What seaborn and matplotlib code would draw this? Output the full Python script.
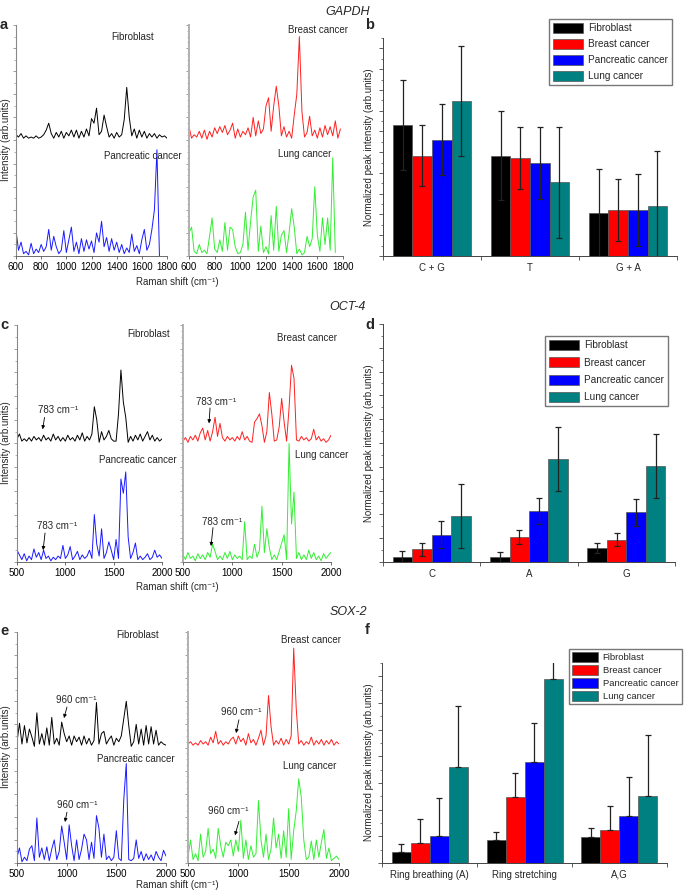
import numpy as np
import pandas as pd
import matplotlib
matplotlib.use("Agg")
import matplotlib.pyplot as plt
from matplotlib.patches import Patch
from matplotlib.ticker import MultipleLocator
import seaborn as sns

sns.set_style("ticks")
plt.rcParams['font.family'] = ['Liberation Sans', 'DejaVu Sans']

cells = ["Fibroblast", "Breast cancer", "Pancreatic cancer", "Lung cancer"]
bar_colors = ["#000000", "#ff0000", "#0000ff", "#008080"]
line_colors = ["#000000", "#ff2020", "#1a1aff", "#33ee33"]

# ---- GAPDH spectra (600-1800 cm-1, every 20 cm-1) ----
gapdh_fib = [0.05, 0.03, 0.06, 0.02, 0.04, 0.02, 0.03, 0.02, 0.04, 0.02,
             0.03, 0.05, 0.09, 0.15, 0.06, 0.02, 0.07, 0.03, 0.08, 0.02,
             0.07, 0.04, 0.09, 0.03, 0.09, 0.02, 0.08, 0.03, 0.10, 0.04,
             0.19, 0.15, 0.28, 0.05, 0.08, 0.22, 0.12, 0.03, 0.06, 0.02,
             0.07, 0.03, 0.05, 0.18, 0.46, 0.20, 0.04, 0.10, 0.02, 0.09,
             0.03, 0.08, 0.02, 0.06, 0.03, 0.06, 0.02, 0.05, 0.03, 0.04,
             0.02]
gapdh_breast = [0.12, 0.02, 0.05, 0.03, 0.08, 0.02, 0.09, 0.01, 0.08, 0.03,
                0.11, 0.06, 0.12, 0.07, 0.13, 0.05, 0.09, 0.15, 0.02, 0.10,
                0.03, 0.08, 0.05, 0.11, 0.03, 0.20, 0.04, 0.17, 0.06, 0.10,
                0.30, 0.37, 0.08, 0.30, 0.47, 0.30, 0.04, 0.12, 0.03, 0.08,
                0.02, 0.22, 0.40, 0.90, 0.25, 0.03, 0.07, 0.21, 0.04, 0.09,
                0.02, 0.11, 0.03, 0.13, 0.05, 0.12, 0.04, 0.17, 0.02, 0.10]
gapdh_panc = [0.22, 0.05, 0.12, 0.02, 0.04, 0.01, 0.11, 0.02, 0.06, 0.03,
              0.10, 0.04, 0.08, 0.23, 0.05, 0.17, 0.08, 0.02, 0.05, 0.22,
              0.03, 0.14, 0.25, 0.04, 0.12, 0.02, 0.15, 0.04, 0.14, 0.06,
              0.13, 0.03, 0.20, 0.12, 0.30, 0.08, 0.16, 0.04, 0.15, 0.05,
              0.12, 0.03, 0.10, 0.02, 0.07, 0.03, 0.19, 0.04, 0.09, 0.02,
              0.14, 0.23, 0.05, 0.10, 0.23, 0.40, 0.92, 0.00]
gapdh_lung = [0.20, 0.25, 0.04, 0.02, 0.10, 0.03, 0.05, 0.02, 0.17, 0.33,
              0.06, 0.03, 0.14, 0.04, 0.29, 0.05, 0.25, 0.23, 0.08, 0.02,
              0.03, 0.10, 0.38, 0.05, 0.30, 0.51, 0.57, 0.04, 0.26, 0.03,
              0.08, 0.02, 0.35, 0.05, 0.43, 0.04, 0.18, 0.22, 0.03, 0.20,
              0.41, 0.25, 0.02, 0.06, 0.01, 0.03, 0.17, 0.08, 0.15, 0.60,
              0.18, 0.04, 0.33, 0.10, 0.33, 0.05, 0.85, 0.03]

# ---- OCT-4 spectra (500-2000 cm-1, every 25 cm-1) ----
oct4_fib = [0.04, 0.08, 0.02, 0.04, 0.02, 0.05, 0.02, 0.06, 0.03, 0.05,
            0.02, 0.07, 0.03, 0.05, 0.02, 0.08, 0.03, 0.06, 0.02, 0.05,
            0.02, 0.07, 0.03, 0.05, 0.02, 0.07, 0.03, 0.09, 0.02, 0.06,
            0.03, 0.08, 0.31, 0.20, 0.01, 0.10, 0.03, 0.06, 0.11, 0.04,
            0.02, 0.02, 0.25, 0.62, 0.35, 0.22, 0.01, 0.06, 0.02, 0.07,
            0.03, 0.08, 0.02, 0.06, 0.10, 0.03, 0.07, 0.02, 0.05, 0.02,
            0.04]
oct4_breast = [0.02, 0.05, 0.01, 0.06, 0.03, 0.07, 0.02, 0.09, 0.13, 0.03,
               0.11, 0.02, 0.10, 0.22, 0.06, 0.17, 0.05, 0.02, 0.06, 0.03,
               0.05, 0.02, 0.06, 0.03, 0.10, 0.03, 0.06, 0.02, 0.01, 0.18,
               0.21, 0.25, 0.15, 0.01, 0.10, 0.43, 0.25, 0.02, 0.03, 0.14,
               0.38, 0.18, 0.02, 0.30, 0.66, 0.55, 0.03, 0.02, 0.06, 0.03,
               0.05, 0.02, 0.04, 0.12, 0.03, 0.06, 0.02, 0.04, 0.01, 0.03,
               0.07]
oct4_panc = [0.10, 0.06, 0.02, 0.07, 0.01, 0.05, 0.02, 0.11, 0.04, 0.08,
             0.02, 0.10, 0.03, 0.05, 0.01, 0.04, 0.02, 0.05, 0.03, 0.14,
             0.03, 0.06, 0.13, 0.02, 0.05, 0.09, 0.02, 0.06, 0.03, 0.05,
             0.10, 0.03, 0.40, 0.15, 0.05, 0.28, 0.03, 0.08, 0.17, 0.10,
             0.02, 0.19, 0.03, 0.70, 0.58, 0.76, 0.21, 0.03, 0.08, 0.16,
             0.02, 0.05, 0.02, 0.04, 0.07, 0.02, 0.04, 0.10, 0.04, 0.06,
             0.03]
oct4_lung = [0.06, 0.02, 0.08, 0.03, 0.05, 0.01, 0.07, 0.03, 0.06, 0.02,
             0.08, 0.04, 0.15, 0.09, 0.02, 0.05, 0.02, 0.08, 0.03, 0.09,
             0.02, 0.06, 0.03, 0.05, 0.02, 0.34, 0.02, 0.05, 0.03, 0.15,
             0.04, 0.10, 0.47, 0.08, 0.28, 0.12, 0.02, 0.06, 0.02, 0.09,
             0.16, 0.23, 0.02, 1.00, 0.32, 0.59, 0.03, 0.08, 0.02, 0.06,
             0.02, 0.10, 0.03, 0.08, 0.02, 0.05, 0.01, 0.07, 0.03, 0.06,
             0.08]

# ---- SOX-2 spectra (500-2000 cm-1, every 25 cm-1) ----
sox2_fib = [0.05, 0.21, 0.03, 0.19, 0.04, 0.16, 0.09, 0.01, 0.30, 0.03,
            0.12, 0.02, 0.17, 0.02, 0.26, 0.03, 0.08, 0.02, 0.22, 0.12,
            0.05, 0.10, 0.02, 0.10, 0.05, 0.09, 0.02, 0.10, 0.03, 0.08,
            0.02, 0.06, 0.39, 0.03, 0.12, 0.14, 0.03, 0.07, 0.10, 0.02,
            0.08, 0.05, 0.10, 0.25, 0.40, 0.19, 0.01, 0.05, 0.20, 0.03,
            0.16, 0.02, 0.19, 0.03, 0.18, 0.03, 0.15, 0.02, 0.05, 0.03,
            0.02]
sox2_breast = [0.03, 0.05, 0.02, 0.04, 0.02, 0.06, 0.03, 0.05, 0.02, 0.09,
               0.04, 0.14, 0.03, 0.06, 0.02, 0.05, 0.03, 0.07, 0.09, 0.03,
               0.10, 0.05, 0.08, 0.02, 0.12, 0.04, 0.07, 0.02, 0.08, 0.15,
               0.02, 0.10, 0.45, 0.18, 0.02, 0.06, 0.03, 0.08, 0.02, 0.07,
               0.03, 0.10, 0.86, 0.34, 0.03, 0.06, 0.02, 0.05, 0.03, 0.09,
               0.02, 0.06, 0.03, 0.07, 0.02, 0.06, 0.03, 0.07, 0.02, 0.05,
               0.03]
sox2_panc = [0.05, 0.13, 0.01, 0.05, 0.02, 0.12, 0.15, 0.02, 0.39, 0.05,
             0.13, 0.03, 0.14, 0.02, 0.12, 0.20, 0.03, 0.10, 0.32, 0.18,
             0.03, 0.33, 0.15, 0.02, 0.20, 0.03, 0.12, 0.25, 0.20, 0.03,
             0.18, 0.04, 0.41, 0.30, 0.05, 0.25, 0.03, 0.06, 0.02, 0.05,
             0.28, 0.04, 0.02, 0.55, 0.86, 0.03, 0.02, 0.04, 0.20, 0.04,
             0.10, 0.02, 0.08, 0.03, 0.07, 0.02, 0.10, 0.05, 0.02, 0.11,
             0.06]
sox2_lung = [0.05, 0.20, 0.03, 0.08, 0.02, 0.25, 0.05, 0.10, 0.30, 0.08,
             0.12, 0.04, 0.30, 0.15, 0.05, 0.18, 0.15, 0.20, 0.06, 0.20,
             0.10, 0.37, 0.04, 0.20, 0.03, 0.15, 0.05, 0.08, 0.54, 0.20,
             0.05, 0.25, 0.03, 0.12, 0.39, 0.13, 0.25, 0.04, 0.28, 0.05,
             0.47, 0.03, 0.28, 0.45, 0.73, 0.57, 0.20, 0.03, 0.05, 0.19,
             0.03, 0.20, 0.05, 0.18, 0.29, 0.04, 0.13, 0.02, 0.04, 0.06,
             0.03]

# ---- normalized peak intensities (rows = cells, cols = groups) ----
gapdh_groups = ["C + G", "T", "G + A"]
gapdh_mean = [[0.630, 0.484, 0.209], [0.484, 0.473, 0.220],
              [0.561, 0.449, 0.222], [0.746, 0.355, 0.241]]
gapdh_err = [[0.217, 0.215, 0.212], [0.148, 0.149, 0.150],
             [0.172, 0.173, 0.173], [0.264, 0.266, 0.265]]

oct4_groups = ["C", "A", "G"]
oct4_mean = [[0.022, 0.021, 0.060], [0.053, 0.105, 0.094],
             [0.114, 0.213, 0.209], [0.192, 0.433, 0.404]]
oct4_err = [[0.024, 0.023, 0.021], [0.028, 0.028, 0.028],
            [0.057, 0.055, 0.056], [0.134, 0.133, 0.133]]

sox2_groups = ["Ring breathing (A)", "Ring stretching", "A,G"]
sox2_mean = [[0.041, 0.086, 0.099], [0.076, 0.248, 0.125],
             [0.100, 0.380, 0.178], [0.361, 0.690, 0.251]]
sox2_err = [[0.030, 0.031, 0.031], [0.089, 0.089, 0.089],
            [0.145, 0.145, 0.145], [0.229, 0.229, 0.229]]

FS = 7
W, H = 685, 894
fig = plt.figure(figsize=(W / 100, H / 100), dpi=100)


def axes_px(x0, x1, y0, y1):
    return fig.add_axes([x0 / W, 1 - y1 / H, (x1 - x0) / W, (y1 - y0) / H])


def spectra(ax, start, step, top, bottom, top_color, bottom_color, xlim, xticks, left_col):
    xt = start + step * np.arange(len(top))
    xb = start + step * np.arange(len(bottom))
    sns.lineplot(x=xb, y=np.array(bottom), ax=ax, color=bottom_color, lw=0.7)
    sns.lineplot(x=xt, y=np.array(top) + 1.0, ax=ax, color=top_color, lw=0.7)
    ax.set_xlim(*xlim)
    ax.set_ylim(0, 2)
    ax.set_xticks(xticks)
    ax.set_xticklabels([str(t) for t in xticks], fontsize=FS)
    ax.yaxis.set_major_locator(MultipleLocator(0.2))
    ax.yaxis.set_minor_locator(MultipleLocator(0.05) if not left_col else MultipleLocator(0.1))
    ax.set_yticklabels([])
    ax.tick_params(axis='x', length=2, width=0.5, pad=2, colors="#333333")
    ax.tick_params(axis='y', which='major', length=2.5, width=0.5, colors="#777777")
    ax.tick_params(axis='y', which='minor', length=1.2, width=0.4, colors="#777777")
    for t in ax.get_xticklabels():
        t.set_color("black")
    sns.despine(ax=ax)
    ax.spines['left'].set_color("#888888" if left_col else "#b0b0b0")
    ax.spines['left'].set_linewidth(0.8 if left_col else 1.4)
    ax.spines['bottom'].set_color("#555555")
    ax.spines['bottom'].set_linewidth(0.6)
    ax.set_xlabel("")
    ax.set_ylabel("")


def labels(ax, items):
    for txt, x, y in items:
        ax.text(x, y, txt, fontsize=FS, ha='center', va='center', clip_on=False)


def arrows(ax, items):
    for tx, ty, x0, y0, x1, y1, txt in items:
        ax.text(tx, ty, txt, fontsize=FS, ha='center', va='center')
        ax.annotate('', xy=(x1, y1), xytext=(x0, y0),
                    arrowprops=dict(arrowstyle='-|>', color='black', lw=0.6,
                                    mutation_scale=5, shrinkA=0, shrinkB=0))


def bars(ax, groups, means, errs, ymax, one_sided=False):
    rows = []
    for cell, m in zip(cells, means):
        for g, v in zip(groups, m):
            rows.append((g, cell, v))
    df = pd.DataFrame(rows, columns=["group", "cell", "value"])
    sns.barplot(data=df, x="group", y="value", hue="cell", order=groups, hue_order=cells,
                palette=bar_colors, saturation=1, errorbar=None, width=0.8,
                edgecolor="#555555", linewidth=0.5, legend=False, ax=ax)
    for cont, e in zip(ax.containers, errs):
        xs = [b.get_x() + b.get_width() / 2 for b in cont]
        ys = [b.get_height() for b in cont]
        yerr = [np.zeros(len(e)), e] if one_sided else e
        ax.errorbar(xs, ys, yerr=yerr, fmt='none', ecolor="#222222",
                    elinewidth=0.9, capsize=2, capthick=0.9)
    ax.set_xlim(-0.5, 2.5)
    ax.set_ylim(0, ymax)
    ax.yaxis.set_major_locator(MultipleLocator(0.1))
    ax.yaxis.set_minor_locator(MultipleLocator(0.05))
    ax.set_yticklabels([])
    ax.set_xticks([0, 1, 2])
    ax.set_xticklabels(groups, fontsize=FS)
    ax.set_xticks([-0.5, 0.5, 1.5, 2.5], minor=True)
    ax.tick_params(axis='x', which='major', length=0, pad=5)
    ax.tick_params(axis='x', which='minor', length=3, width=0.6, colors="#444444")
    ax.tick_params(axis='y', which='major', length=3, width=0.6, colors="#444444")
    ax.tick_params(axis='y', which='minor', length=1.5, width=0.5, colors="#444444")
    sns.despine(ax=ax)
    for s in ('left', 'bottom'):
        ax.spines[s].set_color("#444444")
        ax.spines[s].set_linewidth(0.7)
    ax.set_xlabel("")
    ax.set_ylabel("")


def legend(ax, x, y, spacing, size=7.2, hlen=3.0, hpad=0.6):
    handles = [Patch(facecolor=c, edgecolor="#555555", linewidth=0.5) for c in bar_colors]
    ax.legend(handles, cells, loc='upper left', bbox_to_anchor=(x / W, 1 - y / H),
              bbox_transform=fig.transFigure, borderaxespad=0, fontsize=size,
              handlelength=hlen, handleheight=1.2, handletextpad=hpad,
              labelspacing=spacing, borderpad=0.35, fancybox=False,
              framealpha=1, edgecolor="#777777")


# ---------------- GAPDH ----------------
ax = axes_px(16, 167, 25, 256)
spectra(ax, 600, 20, gapdh_fib, gapdh_panc, line_colors[0], line_colors[2],
        (600, 1800), [600, 800, 1000, 1200, 1400, 1600, 1800], True)
labels(ax, [("Fibroblast", 1530, 1.90), ("Pancreatic cancer", 1610, 0.87)])
ax = axes_px(189, 343, 25, 256)
spectra(ax, 600, 20, gapdh_breast, gapdh_lung, line_colors[1], line_colors[3],
        (600, 1800), [600, 800, 1000, 1200, 1400, 1600, 1800], False)
labels(ax, [("Breast cancer", 1605, 1.96), ("Lung cancer", 1504, 0.88)])
ax = axes_px(383, 677, 38, 256)
bars(ax, gapdh_groups, gapdh_mean, gapdh_err, 1.05)
legend(ax, 549, 19, 0.55)

# ---------------- OCT-4 ----------------
ax = axes_px(17, 162, 325, 562)
spectra(ax, 500, 25, oct4_fib, oct4_panc, line_colors[0], line_colors[2],
        (500, 2000), [500, 1000, 1500, 2000], True)
labels(ax, [("Fibroblast", 1865, 1.92), ("Pancreatic cancer", 1751, 0.86)])
arrows(ax, [(924, 1.28, 785, 1.22, 765, 1.12, "783 cm⁻¹"),
            (914, 0.30, 790, 0.245, 770, 0.10, "783 cm⁻¹")])
ax = axes_px(183, 331, 325, 562)
spectra(ax, 500, 25, oct4_breast, oct4_lung, line_colors[1], line_colors[3],
        (500, 2000), [500, 1000, 1500, 2000], False)
labels(ax, [("Breast cancer", 1757, 1.89), ("Lung cancer", 1909, 0.90)])
arrows(ax, [(835, 1.35, 774, 1.30, 764, 1.17, "783 cm⁻¹"),
            (895, 0.34, 804, 0.29, 784, 0.135, "783 cm⁻¹")])
ax = axes_px(383, 675, 324, 562)
bars(ax, oct4_groups, oct4_mean, oct4_err, 1.0)
legend(ax, 545, 336, 0.7)

# ---------------- SOX-2 ----------------
ax = axes_px(17, 166, 632, 863)
spectra(ax, 500, 25, sox2_fib, sox2_panc, line_colors[0], line_colors[2],
        (500, 2000), [500, 1000, 1500, 2000], True)
labels(ax, [("Fibroblast", 1718, 1.97), ("Pancreatic cancer", 1698, 0.90)])
arrows(ax, [(1094, 1.41, 1003, 1.35, 973, 1.255, "960 cm⁻¹"),
            (1104, 0.50, 1003, 0.44, 983, 0.355, "960 cm⁻¹")])
ax = axes_px(188, 339, 632, 863)
spectra(ax, 500, 25, sox2_breast, sox2_lung, line_colors[1], line_colors[3],
        (500, 2000), [500, 1000, 1500, 2000], False)
labels(ax, [("Breast cancer", 1721, 1.93), ("Lung cancer", 1711, 0.84)])
arrows(ax, [(1026, 1.31, 1006, 1.24, 977, 1.125, "960 cm⁻¹"),
            (897, 0.45, 1006, 0.36, 967, 0.24, "960 cm⁻¹")])
ax = axes_px(382, 667, 663, 863)
bars(ax, sox2_groups, sox2_mean, sox2_err, 0.75, one_sided=True)
legend(ax, 569, 649, 0.3, size=6.8, hlen=2.7, hpad=0.5)

# ---------------- figure texts ----------------
for title, y in [("GAPDH", 12), ("OCT-4", 307), ("SOX-2", 612)]:
    fig.text(348 / W, 1 - y / H, title, fontsize=9, style='italic', ha='center', va='center')
for letter, x, y in [("a", 0, 25), ("b", 365, 25), ("c", 0, 325), ("d", 365, 325),
                     ("e", 0, 631), ("f", 365, 630)]:
    fig.text(x / W, 1 - y / H, letter, fontsize=10.5, fontweight='bold', ha='left', va='center')
for y in [140, 443, 747]:
    fig.text(6 / W, 1 - y / H, "Intensity (arb.units)", fontsize=FS, rotation=90,
             ha='center', va='center')
for y in [282, 587, 885]:
    fig.text(177 / W, 1 - y / H, "Raman shift (cm⁻¹)", fontsize=FS, ha='center', va='center')
for y in [147, 443, 762]:
    fig.text(369 / W, 1 - y / H, "Normalized peak intensity (arb.units)", fontsize=FS,
             rotation=90, ha='center', va='center')

fig.savefig("out.png", dpi=100)
